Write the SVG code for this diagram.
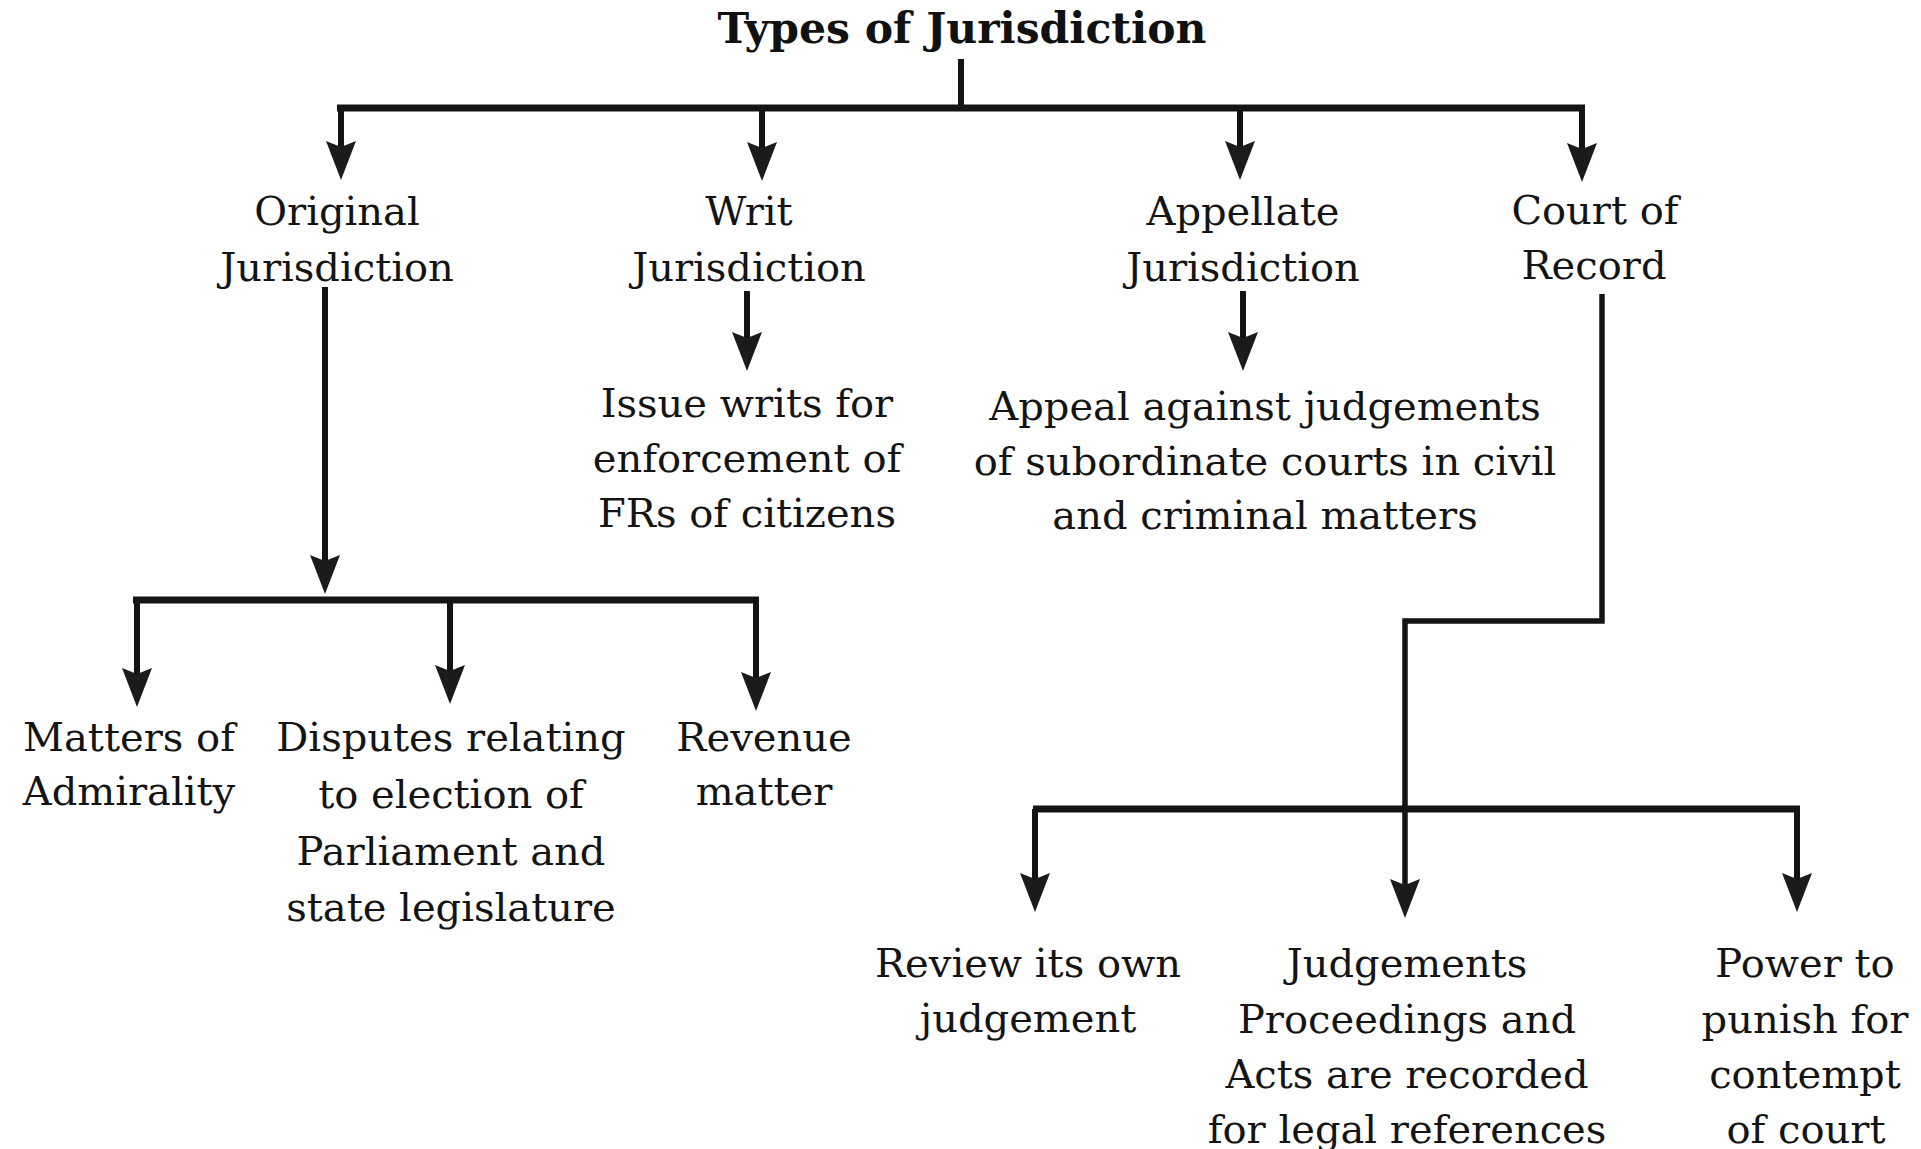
<svg xmlns="http://www.w3.org/2000/svg" width="1921" height="1149" viewBox="0 0 1921 1149">
<style>
  .t { font-family: "DejaVu Serif", "Liberation Serif", serif; font-size: 40px; fill: #141414; text-anchor: middle; }
  .title { font-family: "DejaVu Serif", "Liberation Serif", serif; font-size: 42.5px; font-weight: bold; fill: #111; text-anchor: middle; }
  .ln { fill: none; stroke: #141414; stroke-width: 6; }
  .bar { fill: none; stroke: #141414; stroke-width: 7; }
  .ar { fill: none; stroke: #141414; stroke-width: 6; marker-end: url(#head); }
</style>
<defs>
  <marker id="head" markerUnits="userSpaceOnUse" markerWidth="60" markerHeight="40" refX="0" refY="0" orient="auto" overflow="visible" viewBox="-20 -20 60 40">
    <path d="M-12,-15 L27,0 L-12,15 L-6,0 Z" fill="#1c1a1b"/>
  </marker>
</defs>
<rect width="1921" height="1149" fill="#ffffff"/>

<g id="connectors">
  <line class="ln" x1="961" y1="59" x2="961" y2="108"/>
  <line class="bar" x1="337" y1="108" x2="1585" y2="108"/>
  <line class="ar" x1="341" y1="108" x2="341" y2="153"/>
  <line class="ar" x1="762" y1="108" x2="762" y2="154"/>
  <line class="ar" x1="1240" y1="108" x2="1240" y2="153"/>
  <line class="ar" x1="1582" y1="108" x2="1582" y2="155"/>

  <line class="ar" x1="747" y1="291" x2="747" y2="344"/>
  <line class="ar" x1="1243" y1="291" x2="1243" y2="344"/>

  <line class="ar" x1="325" y1="287" x2="325" y2="567"/>
  <line class="bar" x1="133" y1="600" x2="759" y2="600"/>
  <line class="ar" x1="137" y1="600" x2="137" y2="680"/>
  <line class="ar" x1="450" y1="600" x2="450" y2="677"/>
  <line class="ar" x1="756" y1="600" x2="756" y2="684"/>

  <path class="ar" d="M1602,294 V621 H1405 V891" style="stroke-width:5.5"/>
  <line class="bar" x1="1033" y1="809" x2="1800" y2="809"/>
  <line class="ar" x1="1035" y1="809" x2="1035" y2="885"/>
  <line class="ar" x1="1797" y1="809" x2="1797" y2="885"/>
</g>

<g id="title"><text class="title" x="962" y="43">Types of Jurisdiction</text></g>

<g id="original"><text class="t" x="337" y="225">Original</text><text class="t" x="337" y="281">Jurisdiction</text></g>
<g id="writ"><text class="t" x="749" y="225">Writ</text><text class="t" x="749" y="281">Jurisdiction</text></g>
<g id="appellate"><text class="t" x="1243" y="225">Appellate</text><text class="t" x="1243" y="281">Jurisdiction</text></g>
<g id="court-of-record"><text class="t" x="1595" y="224">Court of</text><text class="t" x="1594" y="279">Record</text></g>

<g id="issue-writs"><text class="t" x="747" y="417">Issue writs for</text><text class="t" x="747" y="472">enforcement of</text><text class="t" x="747" y="527">FRs of citizens</text></g>
<g id="appeal"><text class="t" x="1265" y="420">Appeal against judgements</text><text class="t" x="1265" y="475">of subordinate courts in civil</text><text class="t" x="1265" y="529">and criminal matters</text></g>

<g id="admirality"><text class="t" x="129" y="751">Matters of</text><text class="t" x="129" y="805">Admirality</text></g>
<g id="disputes"><text class="t" x="451" y="751">Disputes relating</text><text class="t" x="451" y="808">to election of</text><text class="t" x="451" y="865">Parliament and</text><text class="t" x="451" y="921">state legislature</text></g>
<g id="revenue"><text class="t" x="764" y="751">Revenue</text><text class="t" x="764" y="805">matter</text></g>

<g id="review"><text class="t" x="1028" y="977">Review its own</text><text class="t" x="1028" y="1032">judgement</text></g>
<g id="judgements"><text class="t" x="1407" y="977">Judgements</text><text class="t" x="1407" y="1033">Proceedings and</text><text class="t" x="1407" y="1088">Acts are recorded</text><text class="t" x="1407" y="1143">for legal references</text></g>
<g id="power"><text class="t" x="1805" y="977">Power to</text><text class="t" x="1805" y="1033">punish for</text><text class="t" x="1805" y="1088">contempt</text><text class="t" x="1806" y="1143">of court</text></g>
</svg>
